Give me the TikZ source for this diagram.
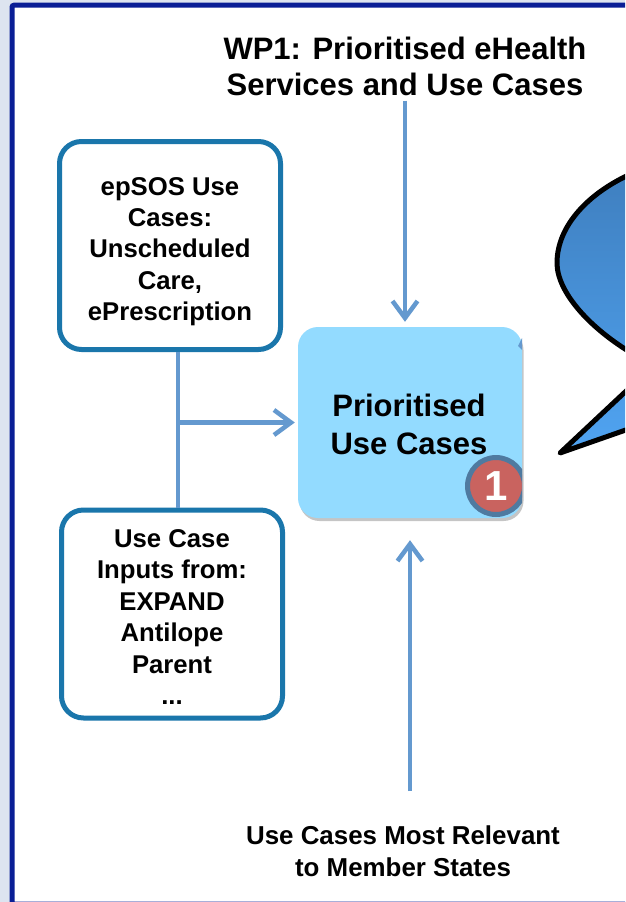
\documentclass[tikz,border=0pt]{standalone}
\usepackage{fontspec}
\setmainfont{Liberation Sans}
\usetikzlibrary{arrows.meta,shadows}
\definecolor{framecol}{HTML}{0A1E96}
\definecolor{shadecol}{HTML}{DDE4F0}
\definecolor{edgecol}{HTML}{1A76AB}
\definecolor{linkcol}{HTML}{6499CF}
\definecolor{maincol}{HTML}{93DBFF}
\definecolor{badgecol}{HTML}{C9635F}
\definecolor{badgeedge}{HTML}{4F7AA0}
\definecolor{callouttop}{HTML}{3F7FBF}
\definecolor{calloutlow}{HTML}{50A4F2}
\tikzset{
    inputbox/.style={draw=edgecol,line width=5pt,fill=white,rounded corners=22pt,minimum width=221pt,minimum height=208pt},
    inputlabel/.style={inner sep=0pt,align=center,font=\fontsize{25.7}{31.4}\selectfont\bfseries},
    mainbox/.style={fill=maincol,rounded corners=20pt,minimum width=224pt,minimum height=191pt,drop shadow={shadow xshift=1.5pt,shadow yshift=-3pt,opacity=.45}},
    mainlabel/.style={inner sep=0pt,align=center,font=\fontsize{31}{38}\selectfont\bfseries},
    headlabel/.style={inner sep=0pt,align=center,font=\fontsize{31}{36}\selectfont\bfseries},
    footlabel/.style={inner sep=0pt,align=center,font=\fontsize{25.9}{32}\selectfont\bfseries},
    badge/.style={circle,draw=badgeedge,line width=5pt,fill=badgecol,text=white,minimum size=57pt,inner sep=0pt,font=\fontsize{42}{42}\selectfont\bfseries},
    link/.style={draw=linkcol,line width=4.5pt},
    linkarrow/.style={link,-{Straight Barb[length=17pt,width=25pt]}}
}
\begin{document}
\begin{tikzpicture}[x=1pt,y=-1pt]
    \useasboundingbox (0,0) rectangle (625,902);
    \clip (0,0) rectangle (625,902);
    \fill[white] (0,0) rectangle (625,902);
    \fill[shadecol] (0,0) rectangle (12,902);
    \fill[shadecol] (0,0) rectangle (625,3);
    \draw[framecol,line width=5pt,fill=white,rounded corners=2pt] (12,5.2) rectangle (640,904);

    \node[inputbox] (epsos) at (170,245.5) {};
    \node[inputbox] (inputs) at (172,614) {};
    \node[mainbox] (main) at (410,422.5) {};
    \node[headlabel] (wp1) at (405,66) {WP1: Prioritised eHealth\\Services and Use Cases};
    \node[footlabel] (relevant) at (403,851) {Use Cases Most Relevant\\to Member States};
    \node[inputlabel] (epsostext) at (170,251.5) {epSOS Use\\Cases:\\Unscheduled\\Care,\\ePrescription};
    \node[inputlabel] (inputstext) at (172,617) {Use Case\\Inputs from:\\EXPAND\\Antilope\\Parent\\...};
    \node[mainlabel] (maintext) at (409,424.5) {Prioritised\\Use Cases};

    \begin{scope}
        \clip (300,440) rectangle (522,530);
        \node[badge] (one) at (496,486) {1};
    \end{scope}
    \fill[linkcol] (522,338) -- (518,346) -- (522,350) -- cycle;

    \coordinate (junction) at (178,422.5);
    \coordinate (relevanttop) at (410,791);
    \draw[link] (epsos.south -| junction) -- (inputs.north -| junction);
    \draw[linkarrow,shorten >=3pt] (junction) -- (main.west);
    \draw[linkarrow,shorten <=5pt,shorten >=5pt] (wp1.south) -- (wp1.south |- main.north);
    \draw[linkarrow,shorten >=22pt] (relevanttop) -- (main.south);

    % callout runs off the right side
    \shade[top color=callouttop,bottom color=calloutlow,draw=black,line width=5pt,line join=round]
        (640,170) .. controls (590,190) and (557,225) .. (557,263)
        .. controls (557,292) and (590,330) .. (640,358)
        -- (640,378) -- (560,453) -- (640,425) -- cycle;
\end{tikzpicture}
\end{document}
